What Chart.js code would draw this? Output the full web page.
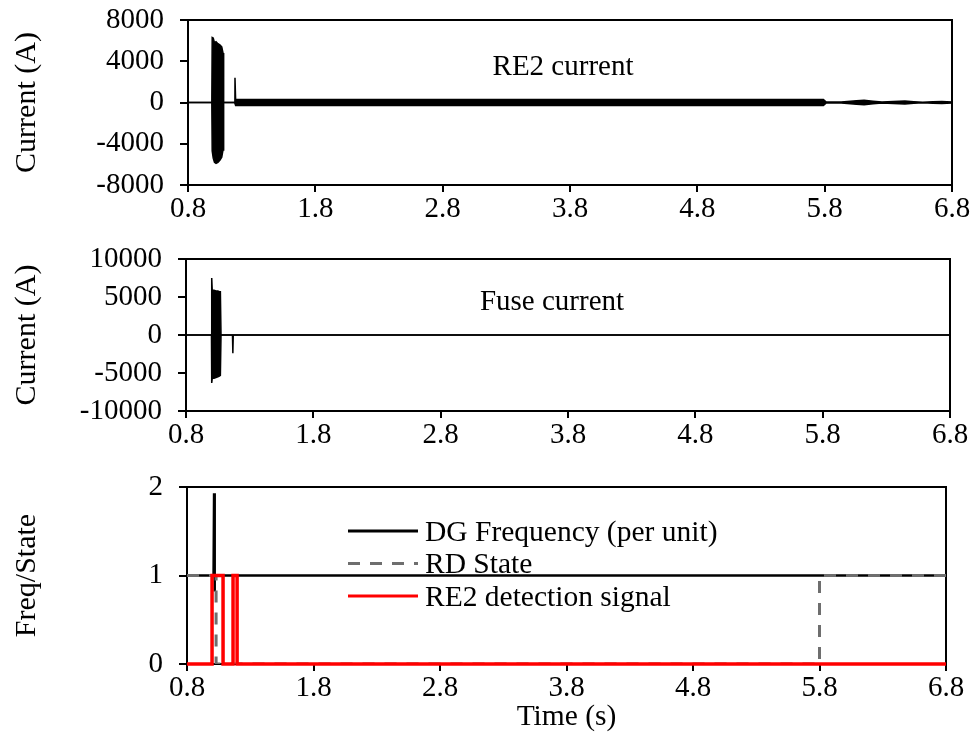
<!DOCTYPE html>
<html>
<head>
<meta charset="utf-8">
<script src="https://cdn.jsdelivr.net/npm/chart.js@4.4.0/dist/chart.umd.min.js"></script>
<style>
  body { margin: 0; background: #fff; }
  canvas { position: absolute; left: 0; }
</style>
</head>
<body>
<canvas id="re2" width="974" height="225" style="top:0"></canvas>
<canvas id="fuse" width="974" height="230" style="top:225px"></canvas>
<canvas id="freq" width="974" height="278" style="top:455px"></canvas>
<script>
// time axis ticks (s)
const timeTicks = [0.8, 1.8, 2.8, 3.8, 4.8, 5.8, 6.8];

// RE2 current, upper / lower envelope of the waveform (A)
const re2Time  = [0.8, 0.987, 0.99, 0.998, 1.008, 1.02, 1.035, 1.05, 1.065, 1.075, 1.08, 1.166, 1.169, 1.174, 5.79, 5.81, 5.93, 6.05, 6.11, 6.18, 6.25, 6.34, 6.43, 6.5, 6.57, 6.65, 6.72, 6.8];
const re2Upper = [0, 0, 6300, 6250, 5800, 5900, 5700, 5600, 5400, 4800, 0, 0, 2400, 300, 300, 60, 50, 160, 220, 130, 40, 100, 140, 80, 30, 70, 90, 60];
const re2Lower = [0, 0, -4700, -5400, -5800, -5900, -5800, -5600, -5300, -4600, 0, 0, 0, -300, -300, -60, -50, -160, -220, -130, -40, -100, -140, -80, -30, -70, -90, -60];
const re2Ticks = [-8000, -4000, 0, 4000, 8000];

// fuse current envelope (A)
const fuseTime  = [0.8, 1.0, 1.002, 1.006, 1.02, 1.035, 1.05, 1.062, 1.07, 1.075, 1.165, 1.168, 1.171, 6.8];
const fuseUpper = [0, 0, 7500, 5900, 5900, 5800, 5800, 5700, 5700, 0, 0, 0, 0, 0];
const fuseLower = [0, 0, -6300, -5700, -5700, -5600, -5500, -5400, -5300, 0, 0, -2400, 0, 0];
const fuseTicks = [-10000, -5000, 0, 5000, 10000];

// DG frequency (pu), RD state and RE2 detection signal
const freqTime = [0.8, 1.01, 1.014, 1.017, 1.021, 6.8];
const freqVal  = [1, 1, 1.93, 0.82, 1, 1];
const rdTime   = [0.8, 1.03, 1.03, 5.8, 5.8, 6.8];
const rdVal    = [1, 1, 0, 0, 1, 1];
const sigTime  = [0.8, 0.998, 0.998, 1.085, 1.085, 1.164, 1.164, 1.196, 1.196, 6.8];
const sigVal   = [0, 0, 1, 1, 0, 0, 1, 1, 0, 0];
const stateTicks = [0, 1, 2];

const FONT = 'Liberation Serif';
const pts = (xs, ys) => xs.map((x, i) => ({ x: x, y: ys[i] }));

// box round the plot area, drawn under the traces
const frame = {
  id: 'frame',
  beforeDatasetsDraw(chart) {
    const { ctx, chartArea: a } = chart;
    ctx.save();
    ctx.strokeStyle = '#000';
    ctx.lineWidth = 2;
    ctx.strokeRect(a.left, a.top, a.right - a.left, a.bottom - a.top);
    ctx.restore();
  }
};

// text label inside the plot
const note = {
  id: 'note',
  afterDatasetsDraw(chart, args, opts) {
    if (!opts.text) return;
    const ctx = chart.ctx;
    ctx.save();
    ctx.fillStyle = '#000';
    ctx.font = '29px "' + FONT + '"';
    ctx.textAlign = 'center';
    ctx.textBaseline = 'middle';
    ctx.fillText(opts.text, opts.x, opts.y);
    ctx.restore();
  }
};

// legend drawn inside the plot, no box
const innerLegend = {
  id: 'innerLegend',
  afterDatasetsDraw(chart, args, opts) {
    if (!opts.show) return;
    const ctx = chart.ctx;
    ctx.save();
    ctx.font = '29.5px "' + FONT + '"';
    ctx.textBaseline = 'middle';
    chart.data.datasets.forEach((ds, i) => {
      const y = opts.y + i * opts.gap;
      ctx.strokeStyle = ds.borderColor;
      ctx.lineWidth = 3;
      ctx.setLineDash(ds.borderDash || []);
      ctx.beginPath();
      ctx.moveTo(opts.x, y);
      ctx.lineTo(opts.x + 70, y);
      ctx.stroke();
      ctx.setLineDash([]);
      ctx.fillStyle = '#000';
      ctx.fillText(ds.label, opts.x + 77, y + 2);
    });
    ctx.restore();
  }
};

function xAxis(height, title) {
  return {
    type: 'linear',
    min: 0.8,
    max: 6.8,
    border: { color: '#000', width: 2 },
    grid: { drawOnChartArea: false, color: '#000', lineWidth: 2, tickLength: 7 },
    ticks: {
      color: '#000', font: { family: FONT, size: 29 }, padding: 0,
      maxRotation: 0, autoSkip: false,
      callback: v => v.toFixed(1)
    },
    afterBuildTicks: s => { s.ticks = timeTicks.map(v => ({ value: v })); },
    afterFit: s => { s.height = height; s.paddingLeft = 0; s.paddingRight = 0; },
    title: {
      display: !!title, text: title, color: '#000',
      font: { family: FONT, size: 29.5 }, padding: { top: 0, bottom: -2 }
    }
  };
}

function yAxis(min, max, ticks, label, width) {
  return {
    min: min,
    max: max,
    border: { color: '#000', width: 2 },
    grid: { drawOnChartArea: false, color: '#000', lineWidth: 2, tickLength: 8 },
    ticks: { color: '#000', font: { family: FONT, size: 29 }, padding: 16, callback: v => String(v) },
    afterBuildTicks: s => { s.ticks = ticks.map(v => ({ value: v })); },
    afterFit: s => { s.width = width; s.paddingTop = 0; s.paddingBottom = 0; },
    title: {
      display: true, text: label, color: '#000',
      font: { family: FONT, size: 30 }, padding: { top: 9, bottom: 0 }
    }
  };
}

function envelope(time, upper, lower) {
  const base = { borderColor: '#000', backgroundColor: '#000', borderWidth: 1.5, pointRadius: 0, tension: 0 };
  return [
    Object.assign({ data: pts(time, upper), fill: false }, base),
    Object.assign({ data: pts(time, lower), fill: '-1' }, base)
  ];
}

function baseOptions(pad, xa, ya, plugins) {
  return {
    responsive: false,
    animation: false,
    events: [],
    layout: { padding: pad },
    scales: { x: xa, y: ya },
    plugins: Object.assign({ legend: { display: false }, tooltip: { enabled: false } }, plugins)
  };
}

new Chart(document.getElementById('re2'), {
  type: 'line',
  data: { datasets: envelope(re2Time, re2Upper, re2Lower) },
  options: baseOptions({ left: 0, top: 20, right: 22, bottom: 0 },
    xAxis(40), yAxis(-8000, 8000, re2Ticks, 'Current (A)', 188),
    { note: { text: 'RE2 current', x: 563, y: 67 } }),
  plugins: [frame, note]
});

new Chart(document.getElementById('fuse'), {
  type: 'line',
  data: { datasets: envelope(fuseTime, fuseUpper, fuseLower) },
  options: baseOptions({ left: 0, top: 34, right: 24, bottom: 0 },
    xAxis(44), yAxis(-10000, 10000, fuseTicks, 'Current (A)', 186),
    { note: { text: 'Fuse current', x: 552, y: 77 } }),
  plugins: [frame, note]
});

new Chart(document.getElementById('freq'), {
  type: 'line',
  data: {
    datasets: [
      { label: 'DG Frequency (per unit)', data: pts(freqTime, freqVal), borderColor: '#000', borderWidth: 2.5, pointRadius: 0, order: 3 },
      { label: 'RD State', data: pts(rdTime, rdVal), borderColor: '#6e6e6e', borderWidth: 3, borderDash: [12, 10], pointRadius: 0, order: 2 },
      { label: 'RE2 detection signal', data: pts(sigTime, sigVal), borderColor: '#ff0000', borderWidth: 3.5, pointRadius: 0, order: 1, clip: 4 }
    ]
  },
  options: baseOptions({ left: 0, top: 32, right: 28, bottom: 0 },
    xAxis(69, 'Time (s)'), yAxis(0, 2, stateTicks, 'Freq/State', 187),
    { innerLegend: { show: true, x: 348, y: 76, gap: 32.5 } }),
  plugins: [frame, innerLegend]
});
</script>
</body>
</html>
